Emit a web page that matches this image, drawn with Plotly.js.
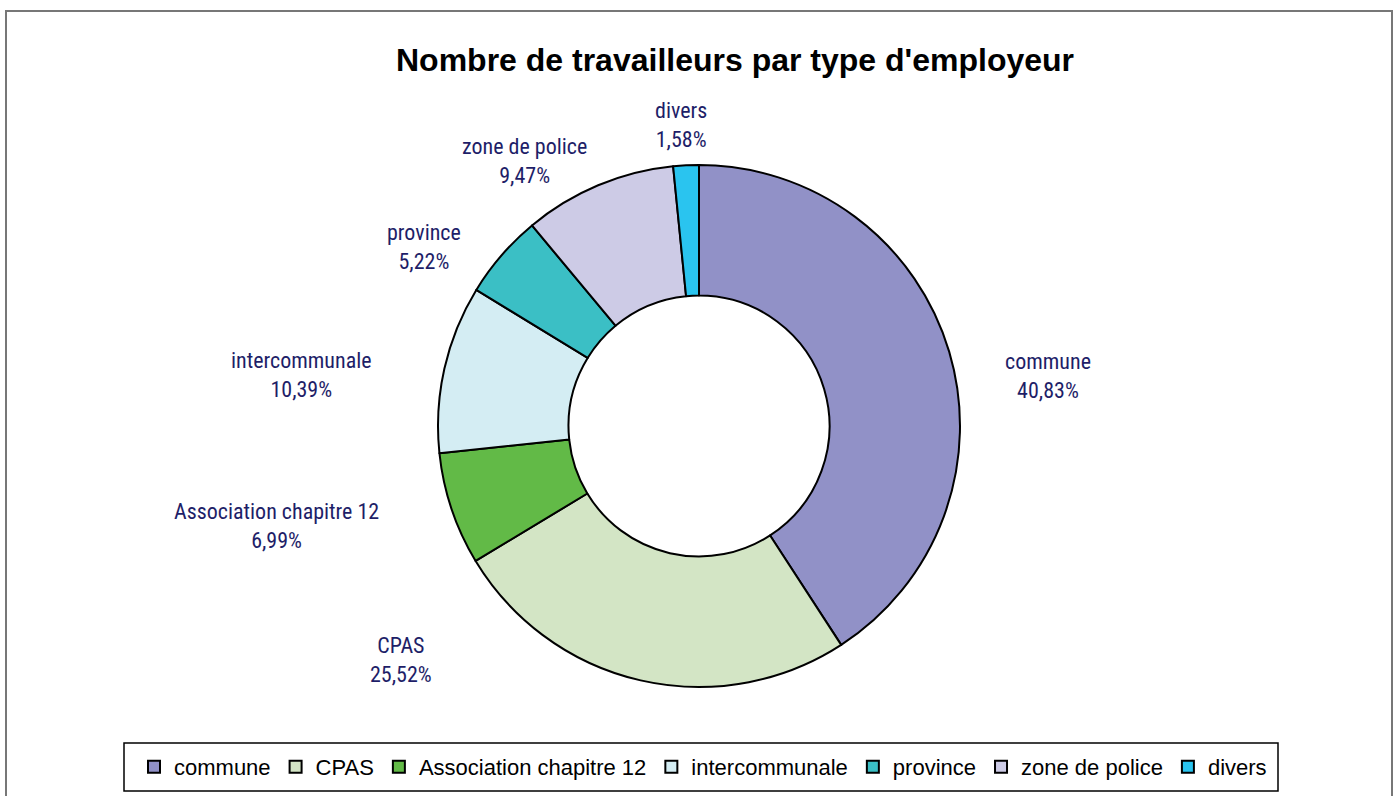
<!DOCTYPE html>
<html><head><meta charset="utf-8">
<script src="https://cdn.plot.ly/plotly-3.0.1.min.js"></script>
<style>html,body{margin:0;padding:0;background:#fff}#chart{width:1397px;height:796px}</style>
</head><body><div id="chart"></div>
<script>
// Data
const categories = ['commune', 'CPAS', 'Association chapitre 12', 'intercommunale', 'province', 'zone de police', 'divers'];
const shares = [40.83, 25.52, 6.99, 10.39, 5.22, 9.47, 1.58];
const chartTitle = "Nombre de travailleurs par type d'employeur";

// Styles / layout (kept separate from data)
const sliceColors = ['#9191C7', '#D3E5C5', '#62BA47', '#D4EDF3', '#3BBFC5', '#CDCBE6', '#2AC4EF'];
const labelAnchorsPx = [[1048, 376], [401, 660], [276, 526], [301, 375], [424, 247], [524, 161], [681, 125]];
const W = 1397, H = 796;
const cx = 699, cy = 426, R = 261;

const fmt = v => v.toFixed(2).replace('.', ',') + '%';

const trace = {
  type: 'pie',
  labels: categories,
  values: shares,
  sort: false,
  direction: 'clockwise',
  rotation: 0,
  hole: 0.5,
  textinfo: 'none',
  marker: { colors: sliceColors, line: { color: '#000', width: 2 } },
  domain: { x: [(cx - R) / W, (cx + R) / W], y: [1 - (cy + R) / H, 1 - (cy - R) / H] },
  hovertemplate: '%{label}<br>%{value:.2f}%<extra></extra>'
};

const labelFont = { family: 'Roboto Condensed, Liberation Sans, sans-serif', size: 22, color: '#1E1E68' };
const annotations = categories.map((c, i) => ({
  xref: 'paper', yref: 'paper',
  x: labelAnchorsPx[i][0] / W, y: 1 - labelAnchorsPx[i][1] / H,
  xanchor: 'center', yanchor: 'middle',
  text: c + '<br>' + fmt(shares[i]),
  showarrow: false, align: 'center', font: labelFont
}));

const layout = {
  width: W, height: H, autosize: false,
  margin: { l: 0, r: 0, t: 0, b: 0 },
  paper_bgcolor: '#fff',
  title: {
    text: '<b>' + chartTitle + '</b>',
    x: 735 / W, y: 1 - 60 / H, xref: 'paper', yref: 'paper',
    xanchor: 'center', yanchor: 'middle',
    font: { family: 'Liberation Sans, Arial, sans-serif', size: 32, color: '#000' }
  },
  showlegend: true,
  legend: {
    orientation: 'h', x: 703 / W, xanchor: 'center', y: 1 - 767 / H, yanchor: 'middle',
    font: { family: 'Liberation Sans, Arial, sans-serif', size: 22, color: '#000' },
    bgcolor: 'rgba(0,0,0,0)', traceorder: 'normal'
  },
  annotations: annotations,
  shapes: [
    { type: 'rect', xref: 'paper', yref: 'paper', x0: 6 / W, x1: 1392 / W, y0: -0.05, y1: 1 - 11 / H,
      line: { color: '#777', width: 2 }, fillcolor: 'rgba(0,0,0,0)' },
    { type: 'rect', xref: 'paper', yref: 'paper', x0: 124 / W, x1: 1278 / W, y0: 1 - 791 / H, y1: 1 - 743 / H,
      line: { color: '#000', width: 1.5 }, fillcolor: 'rgba(0,0,0,0)' }
  ]
};

Plotly.newPlot('chart', [trace], layout, { displayModeBar: false });
</script>
</body></html>
